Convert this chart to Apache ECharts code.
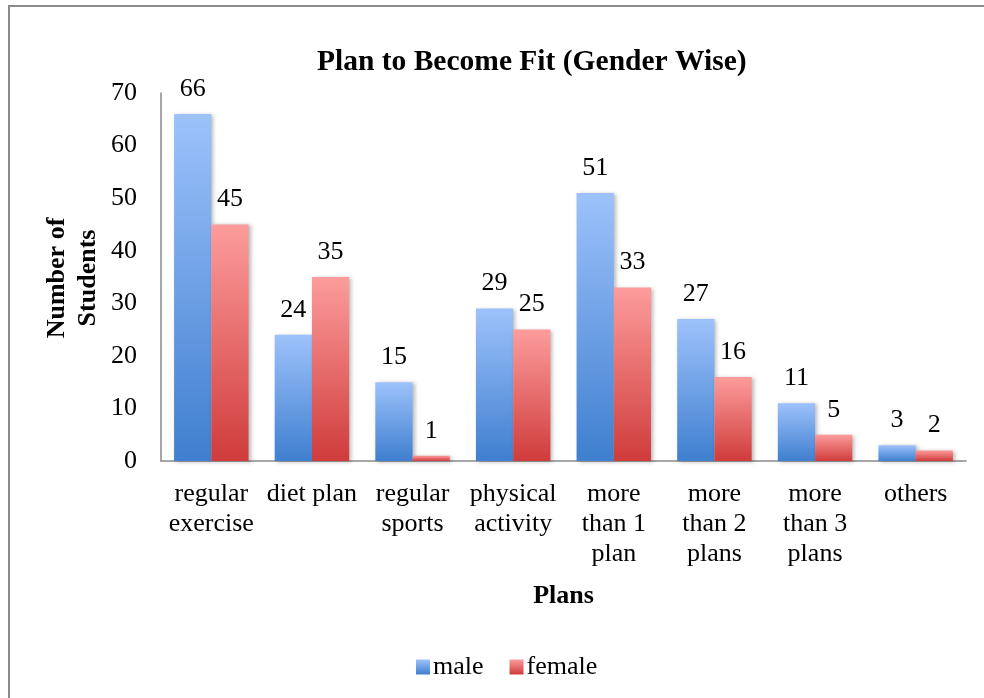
<!DOCTYPE html>
<html>
<head>
<meta charset="utf-8">
<script src="https://cdn.jsdelivr.net/npm/echarts@6/dist/echarts.min.js"></script>
<style>
html,body{margin:0;padding:0;background:#fff;}
#chart{width:984px;height:698px;}
</style>
</head>
<body>
<div id="chart"></div>
<script>
const categories = ['regular\nexercise', 'diet plan', 'regular\nsports', 'physical\nactivity', 'more\nthan 1\nplan', 'more\nthan 2\nplans', 'more\nthan 3\nplans', 'others'];
const maleValues = [66, 24, 15, 29, 51, 27, 11, 3];
const femaleValues = [45, 35, 1, 25, 33, 16, 5, 2];
const yTicks = [0, 10, 20, 30, 40, 50, 60, 70];

const FONT = '"Liberation Serif", "Times New Roman", serif';
const chart = echarts.init(document.getElementById('chart'));

function grad(top, bottom) {
  return new echarts.graphic.LinearGradient(0, 0, 0, 1, [
    { offset: 0, color: top },
    { offset: 1, color: bottom }
  ]);
}

const barShadow = {
  shadowColor: 'rgba(0,0,0,0.28)',
  shadowBlur: 4,
  shadowOffsetX: 2,
  shadowOffsetY: 1
};

const labelStyle = {
  show: true,
  position: 'top',
  distance: 12,
  color: '#000',
  fontFamily: FONT,
  fontSize: 26
};

chart.setOption({
  backgroundColor: '#fff',
  animation: false,
  title: {
    text: 'Plan to Become Fit (Gender Wise)',
    left: 312,
    top: 42,
    textStyle: { fontFamily: FONT, fontSize: 29.5, fontWeight: 'bold', color: '#000' }
  },
  grid: { left: 161, right: 18, top: 93, bottom: 237, containLabel: false },
  legend: {
    data: ['male', 'female'],
    left: 411,
    top: 649,
    itemWidth: 14,
    itemHeight: 15,
    itemGap: 26,
    icon: 'rect',
    textStyle: { fontFamily: FONT, fontSize: 26, color: '#000', padding: [0, 0, 0, -2] }
  },
  xAxis: {
    type: 'category',
    data: categories,
    name: 'Plans',
    nameLocation: 'middle',
    nameGap: 122,
    nameTextStyle: { fontFamily: FONT, fontSize: 26, fontWeight: 'bold', color: '#000' },
    axisLine: { lineStyle: { color: '#8a8a8a', width: 1.5 } },
    axisTick: { show: false },
    axisLabel: { interval: 0, margin: 18, fontFamily: FONT, fontSize: 26, lineHeight: 30, color: '#000' },
    splitLine: { show: false }
  },
  yAxis: {
    type: 'value',
    min: yTicks[0],
    max: yTicks[yTicks.length - 1],
    interval: 10,
    axisLine: { show: true, lineStyle: { color: '#8a8a8a', width: 1.5 } },
    axisTick: { show: false },
    splitLine: { show: false },
    axisLabel: { margin: 24, fontFamily: FONT, fontSize: 26, color: '#000' }
  },
  graphic: [
    {
      type: 'rect',
      shape: { x: 9, y: 6, width: 1200, height: 1200 },
      style: { fill: 'none', stroke: '#8a8a8a', lineWidth: 2 },
      silent: true
    },
    {
      type: 'text',
      x: 73,
      y: 278,
      rotation: Math.PI / 2,
      style: {
        text: 'Number of\nStudents',
        fontFamily: FONT,
        fontSize: 26,
        fontWeight: 'bold',
        lineHeight: 31,
        align: 'center',
        verticalAlign: 'middle',
        fill: '#000'
      }
    }
  ],
  series: [
    {
      name: 'male',
      type: 'bar',
      data: maleValues,
      barGap: '0%',
      barCategoryGap: '26%',
      itemStyle: Object.assign({ color: grad('#9dc2fb', '#3f7fcf') }, barShadow),
      label: labelStyle
    },
    {
      name: 'female',
      type: 'bar',
      data: femaleValues,
      barGap: '0%',
      barCategoryGap: '26%',
      itemStyle: Object.assign({ color: grad('#fd9c9c', '#cf3c3b') }, barShadow),
      label: labelStyle
    }
  ]
});
</script>
</body>
</html>
